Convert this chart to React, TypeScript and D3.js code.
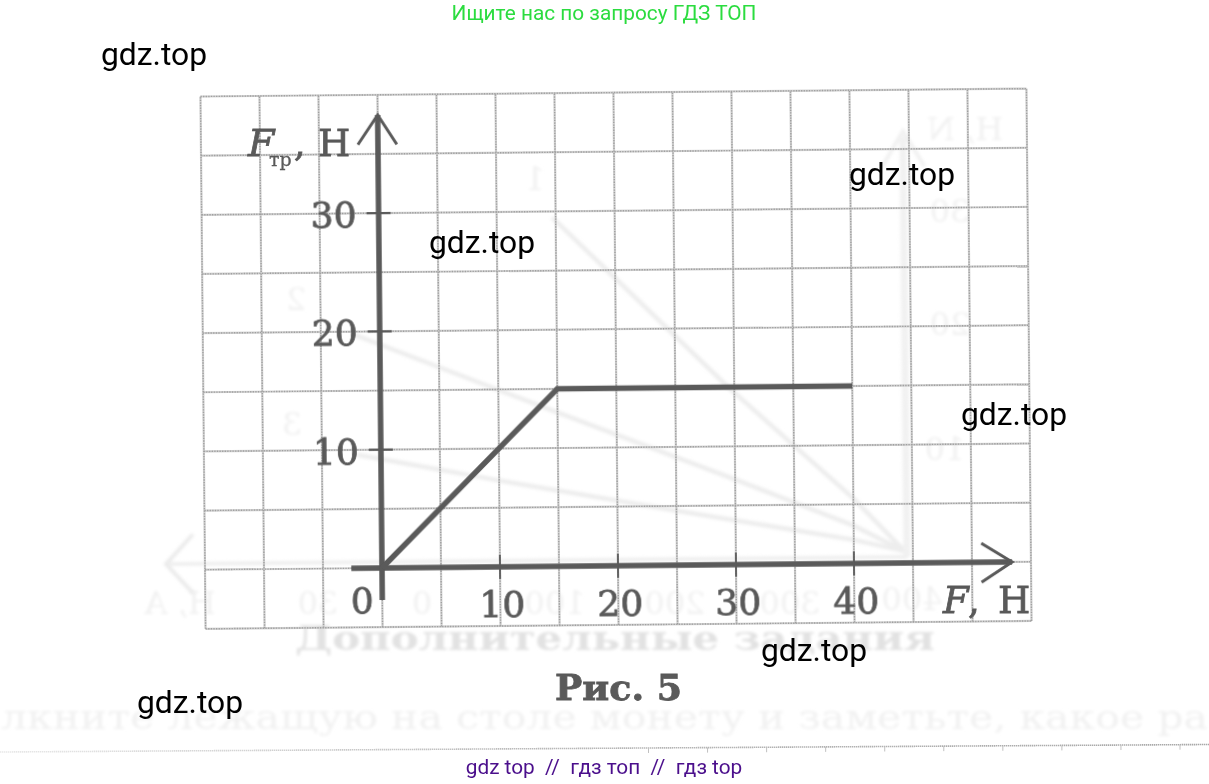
import React from "react";
import * as d3 from "d3";

const W = 1209;
const H = 784;

// Main series: friction force vs applied force
const forceF = [0, 15, 40];
const frictionF = [0, 15, 15];
const xTicks = [10, 20, 30, 40];
const yTicks = [10, 20, 30];
const gridX = d3.range(-15, 60, 5);
const gridY = d3.range(-5, 45, 5);

// Faint lines showing through from the reverse of the page
const ghostF1 = [14.7, 29.5, 40, 44.3];
const ghostT1 = [29.5, 15, 5.5, 1];
const ghostF2 = [-2.3, 15, 30, 40, 44.3];
const ghostT2 = [19.8, 13, 7.2, 3.2, 1];
const ghostF3 = [-2, 10, 25, 40, 44.3];
const ghostT3 = [9.6, 7.3, 4.6, 2, 1];

const watermarks: [string, number, number][] = [
  ["gdz.top", 101, 65],
  ["gdz.top", 849, 185],
  ["gdz.top", 429, 253],
  ["gdz.top", 961, 425],
  ["gdz.top", 761, 661],
  ["gdz.top", 137, 713],
];
const ghostLabels: [string, number, number][] = [
  ["H, A", 180, 614],
  ["30", 318, 614],
  ["0", 422, 614],
  ["100", 555, 614],
  ["200", 675, 614],
  ["300", 790, 614],
  ["400", 912, 610],
  ["1", 535, 190],
  ["2", 296, 310],
  ["3", 292, 435],
  ["H, N", 965, 140],
  ["30", 950, 222],
  ["20", 950, 335],
  ["10", 945, 460],
];
const rulerTicks = d3.range(0, 10);

const ORIGIN: [number, number] = [382, 568];
const ANGLE = -0.55;
const x = d3.scaleLinear().domain([0, 10]).range([0, 118]);
const y = d3.scaleLinear().domain([0, 10]).range([0, -118.3]);
const rulerX = d3.scaleLinear().domain([0, 9]).range([648.5, 1180]);
const line = d3.line<[number, number]>().x((d) => x(d[0])).y((d) => y(d[1]));
const zip = (a: number[], b: number[]) => a.map((v, i) => [v, b[i]] as [number, number]);

const INK = "#5a5a5a";
const SERIF = "'DejaVu Serif', serif";
const ROBOTO = "Roboto, sans-serif";

export default function App() {
  const ink = { fontFamily: SERIF, fill: INK, stroke: INK, strokeWidth: 0.8 };
  return (
    <svg width={W} height={H} viewBox={`0 0 ${W} ${H}`}
      style={{ position: "absolute", left: 0, top: 0, background: "#fff", display: "block" }}>
      <defs>
        <filter id="b1" x="-10%" y="-50%" width="120%" height="200%"><feGaussianBlur stdDeviation="1.6" /></filter>
        <filter id="b2" x="-5%" y="-50%" width="110%" height="200%"><feGaussianBlur stdDeviation="1.8" /></filter>
        <filter id="s" x="-5%" y="-20%" width="110%" height="140%"><feGaussianBlur stdDeviation="0.45" /></filter>
        <linearGradient id="fade" x1="0" x2="1" y1="0" y2="0">
          <stop offset="0" stopColor="#e8e8e8" />
          <stop offset="0.45" stopColor="#b8b8b8" />
          <stop offset="1" stopColor="#a8a8a8" />
        </linearGradient>
      </defs>

      {/* reverse-side show-through */}
      <g filter="url(#b2)" fontFamily={SERIF}>
        {ghostLabels.map(([t, gx, gy], i) => (
          <text key={i} transform={`translate(${gx},${gy}) scale(-1,1)`} textAnchor="middle"
            fontSize={32} fill="#f1f1f1">{t}</text>
        ))}
        <text x={295} y={650} textLength={640} lengthAdjust="spacingAndGlyphs" fontSize={34} fontWeight="bold" fill="#e2e2e2">Дополнительные задания</text>
        <text x={1} y={729} textLength={1207} lengthAdjust="spacingAndGlyphs" fontSize={34} fill="#f1f1f1">лкните лежащую на столе монету и заметьте, какое ра</text>
      </g>
      <g transform={`translate(${ORIGIN[0]},${ORIGIN[1]}) rotate(${ANGLE})`}>
        <g fill="none" stroke="#ededed" strokeWidth={4.5} filter="url(#b1)">
          <path d={line(zip(ghostF1, ghostT1)) ?? ""} />
          <path d={line(zip(ghostF2, ghostT2)) ?? ""} />
          <path d={line(zip(ghostF3, ghostT3)) ?? ""} />
          <path d={`M${x(44.5)},${y(36)}L${x(44.5)},${y(0.5)}`} strokeWidth={7} stroke="#f1f1f1" />
          <path d={`M${x(44.5)},${y(0.5)}L${x(-18)},${y(0.5)}`} strokeWidth={4} stroke="#efefef" />
          <path d={`M${x(-16)},${y(3)}L${x(-18.3)},${y(0.5)}L${x(-16)},${y(-2)}`} strokeWidth={4} stroke="#ebebeb" />
          <path d={`M${x(42.7)},${y(33.5)}L${x(44.5)},${y(36.5)}L${x(46.3)},${y(33.5)}`} strokeWidth={4} stroke="#f1f1f1" />
        </g>

        {/* grid */}
        <g fill="none">
          <g stroke="#d0d0d0" strokeWidth={2.2}>
            {gridX.map((v) => (
              <line key={v} x1={x(v)} x2={x(v)} y1={y(gridY[0])} y2={y(gridY[gridY.length - 1])} />
            ))}
            {gridY.map((v) => (
              <line key={v} x1={x(gridX[0])} x2={x(gridX[gridX.length - 1])} y1={y(v)} y2={y(v)} />
            ))}
          </g>
          <g stroke="#a0a0a0" strokeWidth={1.4} strokeDasharray="1.3 1.3">
            {gridX.map((v) => (
              <line key={v} x1={x(v)} x2={x(v)} y1={y(gridY[0])} y2={y(gridY[gridY.length - 1])} />
            ))}
            {gridY.map((v) => (
              <line key={v} x1={x(gridX[0])} x2={x(gridX[gridX.length - 1])} y1={y(v)} y2={y(v)} />
            ))}
          </g>
        </g>

        {/* axes */}
        <g stroke={INK} fill="none" filter="url(#s)">
          <line x1={x(-2.6)} x2={x(53.4)} y1={y(0)} y2={y(0)} strokeWidth={5.5} />
          <line x1={x(0)} x2={x(0)} y1={y(-2.7)} y2={y(38.3)} strokeWidth={5.5} />
          <path d={`M${x(50.8)},${y(1.6)}L${x(53.4)},${y(0)}L${x(50.8)},${y(-1.7)}`} strokeWidth={3} />
          <path d={`M${x(-1.7)},${y(35.8)}L${x(0)},${y(38.3)}L${x(1.6)},${y(35.8)}`} strokeWidth={3} />
          {xTicks.map((t) => (
            <line key={t} x1={x(t)} x2={x(t)} y1={-12} y2={12} strokeWidth={1.8} />
          ))}
          {yTicks.map((t) => (
            <line key={t} x1={-12} x2={12} y1={y(t)} y2={y(t)} strokeWidth={2.2} />
          ))}
          <path d={line(zip(forceF, frictionF)) ?? ""} strokeWidth={5.5} strokeLinejoin="miter" />
        </g>

        {/* tick labels */}
        <g {...ink} fontSize={36} textAnchor="middle" filter="url(#s)">
          {xTicks.map((t) => (
            <text key={t} x={x(t) + 2} y={50}>{t}</text>
          ))}
          {yTicks.map((t) => (
            <text key={t} x={-45} y={y(t) + 14}>{t}</text>
          ))}
          <text x={-20} y={45}>0</text>
        </g>
      </g>

      {/* axis titles and caption */}
      <g {...ink} filter="url(#s)">
        <text x={248} y={156} fontSize={38} fontStyle="italic">F</text>
        <text x={269} y={166} fontSize={19} strokeWidth={0.3}>тр</text>
        <text x={294} y={156} fontSize={36}>,</text>
        <text x={318} y={156} fontSize={37}>Н</text>
        <text x={943} y={613} fontSize={37} fontStyle="italic">F</text>
        <text x={968} y={613} fontSize={37}>,</text>
        <text x={998} y={613} fontSize={37}>Н</text>
        <text x={555} y={700} fontSize={36} fontWeight="bold" textLength={127} lengthAdjust="spacingAndGlyphs">Рис. 5</text>
      </g>

      {/* ruler at the foot of the page */}
      <line x1={0} x2={W} y1={752} y2={744.5} stroke="url(#fade)" strokeWidth={1.6} strokeDasharray="1.4 0.6" />
      <g stroke="#c0c0c0" strokeWidth={1}>
        {rulerTicks.map((t) => {
          const rx = rulerX(t);
          const ry = 752 - (rx * 7.5) / W;
          return <line key={t} x1={rx} x2={rx} y1={ry} y2={ry + 5} />;
        })}
      </g>

      {/* site text */}
      <g fontFamily={ROBOTO}>
        <text x={604} y={20} textAnchor="middle" fontSize={20.8} fill="#2bdc3f">Ищите нас по запросу ГДЗ ТОП</text>
        {watermarks.map(([t, wx, wy], i) => (
          <text key={i} x={wx} y={wy} fontSize={31.8} fill="#000">{t}</text>
        ))}
        <text x={604} y={774} textAnchor="middle" fontSize={20.8} fill="#4b0f8c" xmlSpace="preserve">gdz top  //  гдз топ  //  гдз top</text>
      </g>
    </svg>
  );
}
